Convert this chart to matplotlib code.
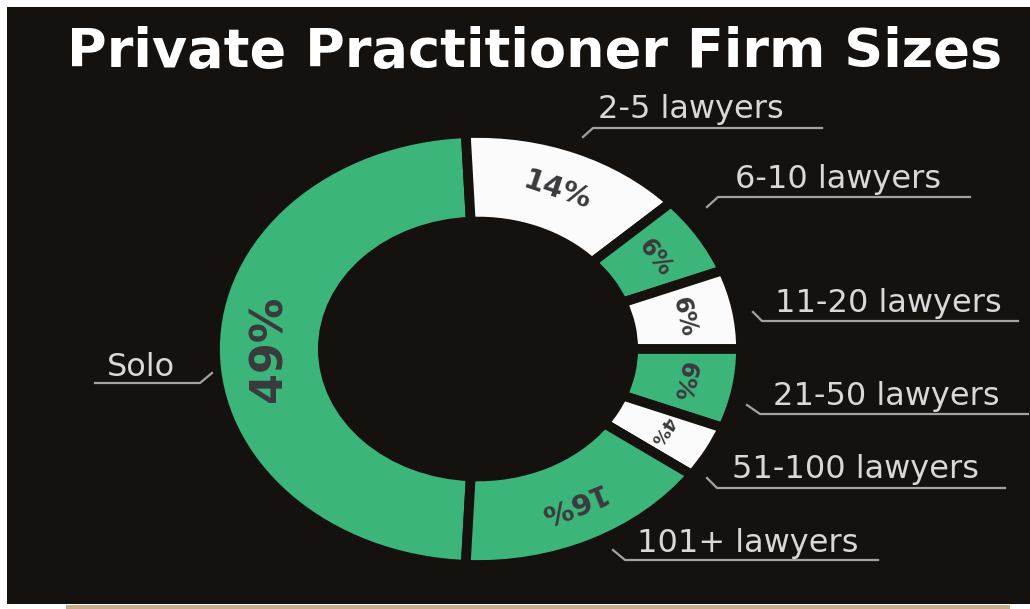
import math
import matplotlib
matplotlib.use("Agg")
import matplotlib.pyplot as plt
from matplotlib.patches import Rectangle

# Data read from the infographic
categories = ["Solo", "2-5 lawyers", "6-10 lawyers", "11-20 lawyers",
              "21-50 lawyers", "51-100 lawyers", "101+ lawyers"]
shares = [49, 14, 6, 6, 6, 4, 16]
pct_labels = ["49%", "14%", "6%", "6%", "6%", "4%", "16%"]

# Styling
BG = "#15110f"
GREEN = "#3bb57a"
WHITE = "#fbfbfb"
wedge_colors = [GREEN, WHITE, GREEN, WHITE, GREEN, WHITE, GREEN]
pct_sizes = [32, 21, 17, 17, 17, 13, 21]

# Label layout in pixels: text x, text baseline, line x0, line x1, line y, tick x, tick y
label_layout = [
    (107, 376, 95, 200, 383, 212, 373),
    (598, 118, 593, 822, 128, 583, 137),
    (735, 188, 718, 970, 197, 707, 207),
    (775, 312, 762, 1018, 321, 753, 312),
    (773, 405, 760, 1028, 414, 747, 405),
    (732, 478, 717, 1005, 488, 707, 478),
    (637, 552, 625, 878, 560, 613, 550),
]

W, H = 1030, 609
fig = plt.figure(figsize=(W / 100, H / 100), dpi=100)
fig.patch.set_facecolor("white")
fig.add_artist(Rectangle((7 / W, 5 / H), 1 - 7 / W, 1 - 12 / H,
                         transform=fig.transFigure, facecolor=BG,
                         edgecolor="none", zorder=-1))
fig.add_artist(Rectangle((66 / W, 0), 944 / W, 4 / H,
                         transform=fig.transFigure, facecolor="#c9ab8e",
                         edgecolor="none", zorder=-1))

# donut (image is stretched horizontally, so the axes are not square)
cx, cy, rx, ry = 478, 349, 263, 216
ax = fig.add_axes([(cx - rx) / W, 1 - (cy + ry) / H, 2 * rx / W, 2 * ry / H])
solo_angle = shares[0] / sum(shares) * 360
wedges, _ = ax.pie(shares, radius=1, startangle=180 + solo_angle / 2,
                   counterclock=False, colors=wedge_colors,
                   wedgeprops=dict(width=0.41, edgecolor=BG, linewidth=7))
ax.set_xlim(-1, 1)
ax.set_ylim(-1, 1)
ax.set_aspect("auto")
ax.axis("off")

fig.canvas.draw()
r_mid = 1 - 0.41 / 2
for w, txt, fs in zip(wedges, pct_labels, pct_sizes):
    th = math.radians((w.theta1 + w.theta2) / 2)
    x, y = r_mid * math.cos(th), r_mid * math.sin(th)
    p0 = ax.transData.transform((x, y))
    p1 = ax.transData.transform((x + 0.01 * math.sin(th), y - 0.01 * math.cos(th)))
    rot = math.degrees(math.atan2(p1[1] - p0[1], p1[0] - p0[0]))
    ax.text(x, y, txt, rotation=rot, rotation_mode="anchor",
            ha="center", va="center", fontsize=fs, fontweight="bold",
            color="#3a3a3c", family="DejaVu Sans")

# overlay in pixel coordinates for title and leader labels
ov = fig.add_axes([0, 0, 1, 1])
ov.set_xlim(0, W)
ov.set_ylim(H, 0)
ov.axis("off")
ov.patch.set_alpha(0)

ov.text(535, 67, "Private Practitioner Firm Sizes", ha="center", va="baseline",
        fontsize=39, fontweight="bold", color="white", family="DejaVu Sans")

for name, (tx, ty, lx0, lx1, ly, kx, ky) in zip(categories, label_layout):
    ov.text(tx, ty, name, ha="left", va="baseline", fontsize=23,
            color="#d8d8d8", family="DejaVu Sans")
    if kx > lx1:
        ov.plot([lx0, lx1, kx], [ly, ly, ky], color="#a3a3a3", lw=1.6)
    else:
        ov.plot([kx, lx0, lx1], [ky, ly, ly], color="#a3a3a3", lw=1.6)

fig.savefig("out.png", dpi=100, facecolor=fig.get_facecolor())
